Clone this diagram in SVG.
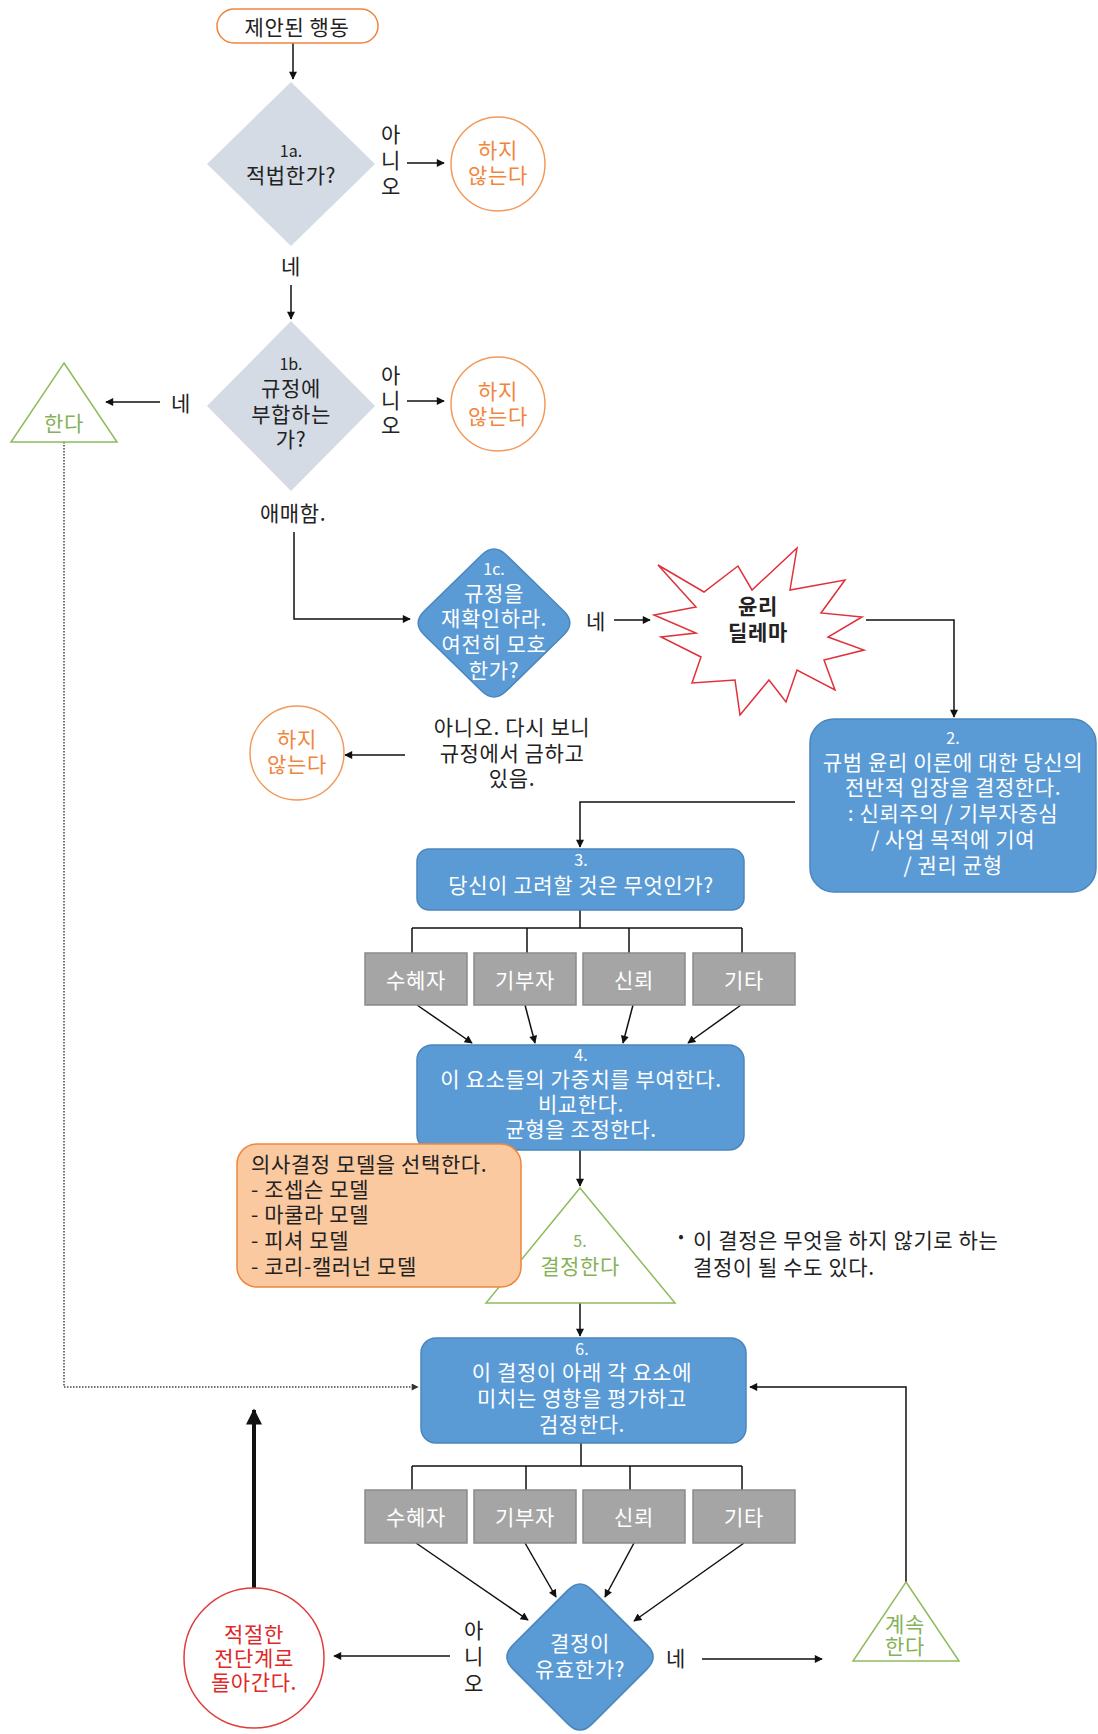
<svg xmlns="http://www.w3.org/2000/svg" width="1098" height="1734" viewBox="0 0 1098 1734">
<style>
text{font-family:"Noto Sans CJK KR","Noto Sans",sans-serif;font-size:21px;letter-spacing:0.6px;text-anchor:middle;dominant-baseline:central;fill:#222}
.sm{font-size:16px;letter-spacing:0}
.w{fill:#fff}
.or{fill:#f0863c}
.gr{fill:#86b257}
.rd{fill:#e02828}
.lt{text-anchor:start}
.b{font-weight:bold}
.blue{fill:#5b9bd5;stroke:#4a86bd;stroke-width:1.5}
.gray{fill:#a5a5a5;stroke:#8a8a8a;stroke-width:1.5}
.dia{fill:#d5dbe4}
.ocirc{fill:#fff;stroke:#f29a5a;stroke-width:1.5}
.tri{fill:#fff;stroke:#8fbb5f;stroke-width:1.5}
.ln{fill:none;stroke:#111;stroke-width:1.5}
.ar{fill:none;stroke:#111;stroke-width:1.5;marker-end:url(#arr)}
</style>
<defs>
<marker id="arr" viewBox="0 0 10 10" refX="9" refY="5" markerWidth="10" markerHeight="8" markerUnits="userSpaceOnUse" orient="auto"><path d="M0,0 L10,5 L0,10 z" fill="#111"/></marker>
<marker id="arrBig" viewBox="0 0 10 10" refX="9" refY="5" markerWidth="18" markerHeight="16" markerUnits="userSpaceOnUse" orient="auto"><path d="M0,0 L10,5 L0,10 z" fill="#111"/></marker>
<marker id="arrG" viewBox="0 0 10 10" refX="9" refY="5" markerWidth="9" markerHeight="7" markerUnits="userSpaceOnUse" orient="auto"><path d="M0,0 L10,5 L0,10 z" fill="#333"/></marker>
</defs>
<rect width="1098" height="1734" fill="#fff"/>

<g id="connectors">
<path class="ar" d="M293,43 L293,79"/>
<path class="ar" d="M407,163 L444,163"/>
<path class="ar" d="M291,285 L291,319"/>
<path class="ar" d="M407,401 L444,401"/>
<path class="ar" d="M160,402 L106,402"/>
<path d="M64,442 L64,1387 L418,1387" fill="none" stroke="#444" stroke-width="1.5" stroke-dasharray="1.5,1.5" marker-end="url(#arrG)"/>
<path class="ar" d="M294,532 L294,619 L410,619"/>
<path class="ar" d="M614,620 L650,620"/>
<path class="ar" d="M405,755 L345,755"/>
<path class="ar" d="M866,620 L954,620 L954,717"/>
<path class="ar" d="M795,802 L580,802 L580,847"/>
<path class="ln" d="M580,910 L580,928 M412,928 L742,928 M412,928 L412,953 M527,928 L527,953 M629,928 L629,953 M742,928 L742,953"/>
<path class="ar" d="M417,1005 L472,1043"/>
<path class="ar" d="M525,1005 L535,1043"/>
<path class="ar" d="M633,1005 L623,1043"/>
<path class="ar" d="M741,1005 L688,1043"/>
<path class="ar" d="M580,1150 L580,1186"/>
<path class="ar" d="M580,1303 L580,1336"/>
<path class="ln" d="M581,1443 L581,1466 M412,1466 L742,1466 M412,1466 L412,1490 M526,1466 L526,1490 M630,1466 L630,1490 M742,1466 L742,1490"/>
<path class="ar" d="M416,1543 L528,1620"/>
<path class="ar" d="M525,1543 L556,1597"/>
<path class="ar" d="M634,1543 L605,1597"/>
<path class="ar" d="M744,1543 L634,1621"/>
<path class="ar" d="M450,1656 L334,1656"/>
<path d="M254,1588 L254,1410" fill="none" stroke="#111" stroke-width="4" marker-end="url(#arrBig)"/>
<path class="ar" d="M702,1659 L822,1659"/>
<path class="ar" d="M906,1582 L906,1387 L750,1387"/>
</g>

<g id="start">
<rect x="217" y="9" width="161" height="34" rx="17" fill="#fff" stroke="#f0863c" stroke-width="1.5"/>
<text x="297" y="26">제안된 행동</text>
</g>

<g id="q1a">
<polygon class="dia" points="291,82 375,164 291,246 207,164"/>
<text class="sm" x="291" y="150">1a.</text>
<text x="291" y="174">적법한가?</text>
</g>
<g id="lbl1a-no"><text x="391" y="133">아</text><text x="391" y="159">니</text><text x="391" y="185">오</text></g>
<g id="no1"><circle class="ocirc" cx="498" cy="164" r="47"/><text class="or" x="498" y="149">하지</text><text class="or" x="498" y="174">않는다</text></g>
<g id="lbl1a-yes"><text x="291" y="265">네</text></g>

<g id="q1b">
<polygon class="dia" points="291,321 375,406 291,491 207,406"/>
<text class="sm" x="291" y="363">1b.</text>
<text x="291" y="387">규정에</text>
<text x="291" y="413">부합하는</text>
<text x="291" y="438">가?</text>
</g>
<g id="lbl1b-no"><text x="391" y="374">아</text><text x="391" y="399">니</text><text x="391" y="424">오</text></g>
<g id="no2"><circle class="ocirc" cx="498" cy="404" r="47"/><text class="or" x="498" y="390">하지</text><text class="or" x="498" y="415">않는다</text></g>
<g id="lbl1b-yes"><text x="181" y="402">네</text></g>
<g id="do"><polygon class="tri" points="64,363 117,442 11,442"/><text class="gr" x="64" y="422">한다</text></g>
<g id="lbl1b-amb"><text x="293" y="512">애매함.</text></g>

<g id="q1c">
<path d="M506.3,555 L563.7,611 Q576,623 563.7,635 L506.3,691 Q494,703 481.7,691 L424.3,635 Q412,623 424.3,611 L481.7,555 Q494,543 506.3,555 Z" class="blue"/>
<text class="sm w" x="494" y="568">1c.</text>
<text class="w" x="494" y="592">규정을</text>
<text class="w" x="494" y="617">재확인하라.</text>
<text class="w" x="494" y="643">여전히 모호</text>
<text class="w" x="494" y="669">한가?</text>
</g>
<g id="lbl1c-yes"><text x="596" y="620">네</text></g>
<g id="lbl1c-no"><text x="512" y="726">아니오. 다시 보니</text><text x="512" y="752">규정에서 금하고</text><text x="512" y="777">있음.</text></g>
<g id="no3"><circle class="ocirc" cx="297" cy="753" r="47"/><text class="or" x="297" y="738">하지</text><text class="or" x="297" y="763">않는다</text></g>

<g id="dilemma">
<polygon points="658,565 704,592 738,566 752,590 797,548 790,590 845,580 821,613 862,617 828,637 864,650 824,660 835,690 797,670 786,702 769,680 740,715 735,680 692,683 701,657 661,637 696,633 654,615 696,607" fill="#fff" stroke="#e0303a" stroke-width="1.5"/>
<text class="b" x="758" y="605">윤리</text>
<text class="b" x="758" y="631">딜레마</text>
</g>

<g id="step2">
<rect class="blue" x="810" y="719" width="286" height="173" rx="24"/>
<text class="sm w" x="953" y="737">2.</text>
<text class="w" x="953" y="761">규범 윤리 이론에 대한 당신의</text>
<text class="w" x="953" y="786">전반적 입장을 결정한다.</text>
<text class="w" x="953" y="812">: 신뢰주의 / 기부자중심</text>
<text class="w" x="953" y="838">/ 사업 목적에 기여</text>
<text class="w" x="953" y="864">/ 권리 균형</text>
</g>

<g id="step3">
<rect class="blue" x="417" y="849" width="327" height="61" rx="12"/>
<text class="sm w" x="581" y="859">3.</text>
<text class="w" x="581" y="884">당신이 고려할 것은 무엇인가?</text>
</g>

<g id="f1a"><rect class="gray" x="365" y="953" width="102" height="52"/><text class="w" x="416" y="979">수혜자</text></g>
<g id="f1b"><rect class="gray" x="474" y="953" width="102" height="52"/><text class="w" x="525" y="979">기부자</text></g>
<g id="f1c"><rect class="gray" x="583" y="953" width="102" height="52"/><text class="w" x="634" y="979">신뢰</text></g>
<g id="f1d"><rect class="gray" x="693" y="953" width="102" height="52"/><text class="w" x="744" y="979">기타</text></g>

<g id="step4">
<rect class="blue" x="417" y="1045" width="327" height="105" rx="15"/>
<text class="sm w" x="581" y="1054">4.</text>
<text class="w" x="581" y="1078">이 요소들의 가중치를 부여한다.</text>
<text class="w" x="581" y="1103">비교한다.</text>
<text class="w" x="581" y="1128">균형을 조정한다.</text>
</g>

<g id="step5">
<polygon class="tri" points="580,1188 675,1303 486,1303"/>
<text class="sm gr" x="580" y="1240">5.</text>
<text class="gr" x="580" y="1265">결정한다</text>
</g>

<g id="models">
<rect x="237" y="1144" width="284" height="143" rx="20" fill="#fbc9a0" stroke="#f0863c" stroke-width="1.5"/>
<text class="lt" x="251" y="1163">의사결정 모델을 선택한다.</text>
<text class="lt" x="251" y="1188">- 조셉슨 모델</text>
<text class="lt" x="251" y="1213">- 마쿨라 모델</text>
<text class="lt" x="251" y="1239">- 피셔 모델</text>
<text class="lt" x="251" y="1265">- 코리-캘러넌 모델</text>
</g>

<g id="note">
<text class="sm" x="681" y="1235">•</text>
<text class="lt" x="693" y="1239">이 결정은 무엇을 하지 않기로 하는</text>
<text class="lt" x="693" y="1266">결정이 될 수도 있다.</text>
</g>

<g id="step6">
<rect class="blue" x="421" y="1338" width="325" height="105" rx="15"/>
<text class="sm w" x="582" y="1348">6.</text>
<text class="w" x="582" y="1371">이 결정이 아래 각 요소에</text>
<text class="w" x="582" y="1397">미치는 영향을 평가하고</text>
<text class="w" x="582" y="1423">검정한다.</text>
</g>

<g id="f2a"><rect class="gray" x="365" y="1490" width="102" height="53"/><text class="w" x="416" y="1516">수혜자</text></g>
<g id="f2b"><rect class="gray" x="474" y="1490" width="102" height="53"/><text class="w" x="525" y="1516">기부자</text></g>
<g id="f2c"><rect class="gray" x="583" y="1490" width="102" height="53"/><text class="w" x="634" y="1516">신뢰</text></g>
<g id="f2d"><rect class="gray" x="693" y="1490" width="102" height="53"/><text class="w" x="744" y="1516">기타</text></g>

<g id="valid">
<path class="blue" d="M591.85,1589.85 L647.15,1645.15 Q659,1657 647.15,1668.85 L591.85,1724.15 Q580,1736 568.15,1724.15 L512.85,1668.85 Q501,1657 512.85,1645.15 L568.15,1589.85 Q580,1578 591.85,1589.85 Z"/>
<text class="w" x="580" y="1642">결정이</text>
<text class="w" x="580" y="1668">유효한가?</text>
</g>
<g id="lblv-no"><text x="474" y="1629">아</text><text x="474" y="1655">니</text><text x="474" y="1682">오</text></g>
<g id="back">
<circle cx="254" cy="1658" r="70" fill="#fff" stroke="#e03c3c" stroke-width="1.5"/>
<text class="rd" x="254" y="1633">적절한</text>
<text class="rd" x="254" y="1657">전단계로</text>
<text class="rd" x="254" y="1681">돌아간다.</text>
</g>
<g id="lblv-yes"><text x="676" y="1657">네</text></g>
<g id="continue">
<polygon class="tri" points="906,1582 959,1661 853,1661"/>
<text class="gr" x="905" y="1623">계속</text>
<text class="gr" x="905" y="1645">한다</text>
</g>
</svg>
